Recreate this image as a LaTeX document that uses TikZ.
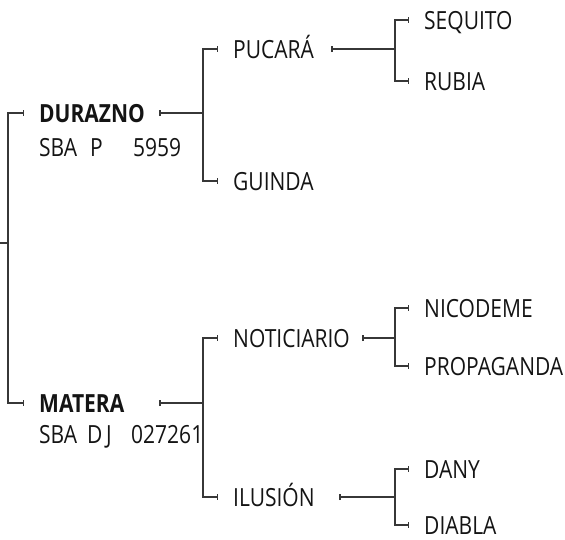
\documentclass[tikz,border=0pt]{standalone}
\usepackage{fontspec}
\setmainfont[FakeStretch=0.84]{Open Sans}
\usepackage{tikz}
\usetikzlibrary{arrows.meta, positioning, calc}
\definecolor{lineColor}{RGB}{55, 55, 55}
\definecolor{textColor}{RGB}{20, 20, 20}

\begin{document}
\begin{tikzpicture}[
    x=1pt, y=-1pt,
    lbl/.style={anchor=west, inner sep=0pt, text height=18pt, text depth=0pt, font=\fontsize{25}{29}\selectfont, text=textColor},
    horse/.style={lbl, font=\fontsize{25}{29}\selectfont\bfseries},
    arm/.style={draw=lineColor, line width=1.3pt, -{Bar[width=6pt]}, shorten >=15pt},
    stem/.style={draw=lineColor, line width=1.3pt, {Bar[width=6pt]}-}
]
    \useasboundingbox (0,0) rectangle (565,539);

    % Forks
    \coordinate (root) at (0,243);
    \coordinate (j0) at (8,243);
    \coordinate (jd) at (203,113);
    \coordinate (jm) at (203,403);
    \coordinate (jp) at (395,49);
    \coordinate (jn) at (395,338);
    \coordinate (ji) at (395,497);

    % First generation
    \node[horse, text width=120pt] (durazno) at (39,113) {DURAZNO};
    \node[lbl, below=16pt of durazno.south west, anchor=north west] (durazno-reg) {\makebox[51pt][l]{SBA}\makebox[43pt][l]{P}5959};
    \node[horse, text width=120pt] (matera) at (39,403) {MATERA};
    \node[lbl, below=13pt of matera.south west, anchor=north west] (matera-reg) {\makebox[48pt][l]{SBA}\makebox[19pt][l]{D}\makebox[25pt][l]{J}027261};

    % Second generation
    \node[lbl, text width=98pt] (pucara) at (233,49) {PUCARÁ};
    \node[lbl] (guinda) at (233,181) {GUINDA};
    \node[lbl, text width=129pt] (noticiario) at (233,338) {NOTICIARIO};
    \node[lbl, text width=106pt] (ilusion) at (233,497) {ILUSIÓN};

    % Third generation
    \node[lbl] (sequito) at (424,20) {SEQUITO};
    \node[lbl] (rubia) at (424,81) {RUBIA};
    \node[lbl] (nicodeme) at (424,308) {NICODEME};
    \node[lbl] (propaganda) at (424,366) {PROPAGANDA};
    \node[lbl] (dany) at (424,469) {DANY};
    \node[lbl] (diabla) at (424,525) {DIABLA};

    % Lines
    \draw[draw=lineColor, line width=1.3pt] (root) -- (j0);
    \draw[arm] (j0) |- (durazno.west);
    \draw[arm] (j0) |- (matera.west);

    \draw[stem] (durazno.east) -- (jd);
    \draw[arm] (jd) |- (pucara.west);
    \draw[arm] (jd) |- (guinda.west);
    \draw[stem] (matera.east) -- (jm);
    \draw[arm] (jm) |- (noticiario.west);
    \draw[arm] (jm) |- (ilusion.west);

    \draw[stem] (pucara.east) -- (jp);
    \draw[arm] (jp) |- (sequito.west);
    \draw[arm] (jp) |- (rubia.west);
    \draw[stem] (noticiario.east) -- (jn);
    \draw[arm] (jn) |- (nicodeme.west);
    \draw[arm] (jn) |- (propaganda.west);
    \draw[stem] (ilusion.east) -- (ji);
    \draw[arm] (ji) |- (dany.west);
    \draw[arm] (ji) |- (diabla.west);

\end{tikzpicture}
\end{document}
